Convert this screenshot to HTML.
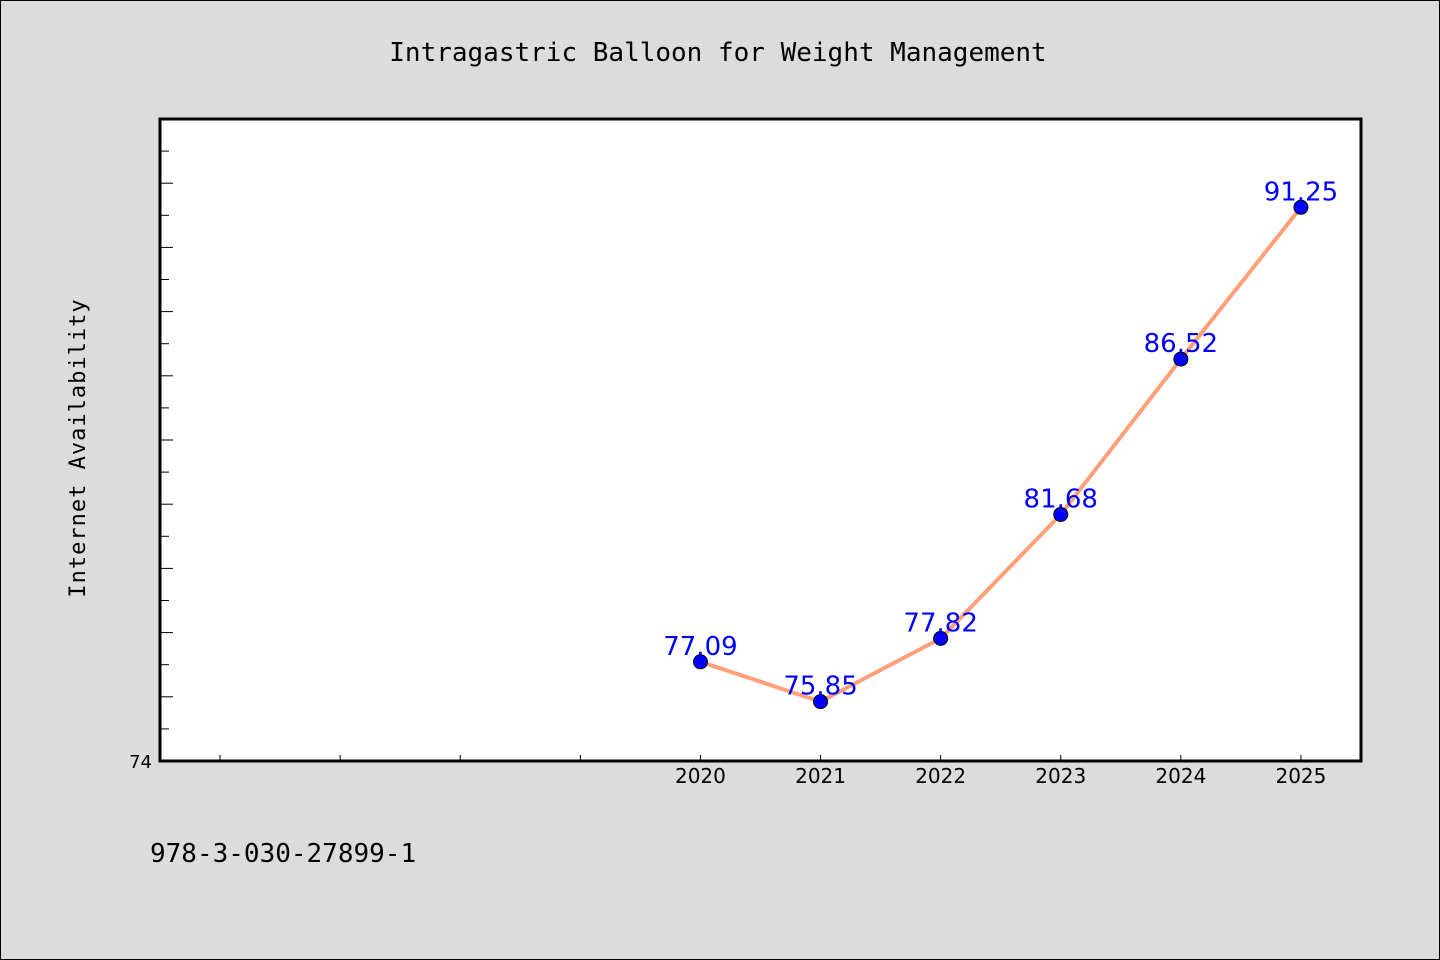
<!DOCTYPE html>
<html><head><meta charset="utf-8"><style>
html,body{margin:0;padding:0;background:#dcdcdc;}
svg{display:block;}
text{font-family:"DejaVu Sans","Liberation Sans",sans-serif;}
</style></head><body>
<svg id="chart" width="1440" height="960" xmlns="http://www.w3.org/2000/svg">
<rect x="0.5" y="0.5" width="1439" height="959" fill="#dcdcdc" stroke="#000" stroke-width="1"/>
<text x="718" y="61" text-anchor="middle" font-size="26" style="font-family:'DejaVu Sans Mono','Liberation Mono',monospace">Intragastric Balloon for Weight Management</text>
<text transform="translate(85,448) rotate(-90)" text-anchor="middle" font-size="22" style="font-family:'DejaVu Sans Mono','Liberation Mono',monospace;letter-spacing:1px">Internet Availability</text>
<rect x="160" y="119" width="1201" height="642" fill="#fff" stroke="#000" stroke-width="3"/>
<g id="axes"></g>
<g id="series"></g>
<text x="150" y="862" font-size="26" style="font-family:'DejaVu Sans Mono','Liberation Mono',monospace">978-3-030-27899-1</text>
</svg>
<script>
const years = [2020, 2021, 2022, 2023, 2024, 2025];
const values = [77.09, 75.85, 77.82, 81.68, 86.52, 91.25];
const xTickLabels = ["", "", "", "", "2020", "2021", "2022", "2023", "2024", "2025"];
const yTickLabels = ["74"];

const L=160,R=1361,T=119,B=761;
const xMin=2015.5,xMax=2025.5,yMin=74,yMax=94;
const xs=v=>L+(v-xMin)/(xMax-xMin)*(R-L);
const ys=v=>B-(v-yMin)/(yMax-yMin)*(B-T);
const NS="http://www.w3.org/2000/svg";
function mk(tag,attrs,parent){const e=document.createElementNS(NS,tag);for(const k in attrs)e.setAttribute(k,attrs[k]);parent.appendChild(e);return e;}
const axes=document.getElementById('axes');
xTickLabels.forEach((lab,i)=>{
  const x=xs(2016+i);
  const t=mk('line',{x1:x,x2:x,y1:B,y2:B-6,stroke:'#000','stroke-width':1},axes);
  
  
  if(lab){
    const tx=mk('text',{x:x,y:B+22,'text-anchor':'middle','font-size':20},axes);
    tx.textContent=lab;
    
    
  }
});
for(let v=yMin+1;v<yMax;v++){
  const y=ys(v);
  const len=(v-yMin)%2===0?13:9;
  const t=mk('line',{x1:L,x2:L+len,y1:y,y2:y,stroke:'#000','stroke-width':1},axes);
  
  
}
const yl=mk('text',{x:L-8,y:ys(Number(yTickLabels[0]))+7,'text-anchor':'end','font-size':18},axes);
yl.textContent=yTickLabels[0];



const g=document.getElementById('series');
const pts=years.map((y,i)=>xs(y)+','+ys(values[i])).join(' ');
const pl=mk('polyline',{points:pts,fill:'none',stroke:'#ffa07a','stroke-width':4,'stroke-linejoin':'round'},g);


years.forEach((yr,i)=>{
  const c=mk('circle',{cx:xs(yr),cy:ys(values[i]),r:7,fill:'#0000ff',stroke:'#000','stroke-width':1},g);
  
  
  const t=mk('text',{x:xs(yr),y:ys(values[i])-7,'text-anchor':'middle','font-size':26,fill:'#0000ff'},g);
  t.textContent=values[i].toFixed(2);
  
  
});
</script>
</body></html>
